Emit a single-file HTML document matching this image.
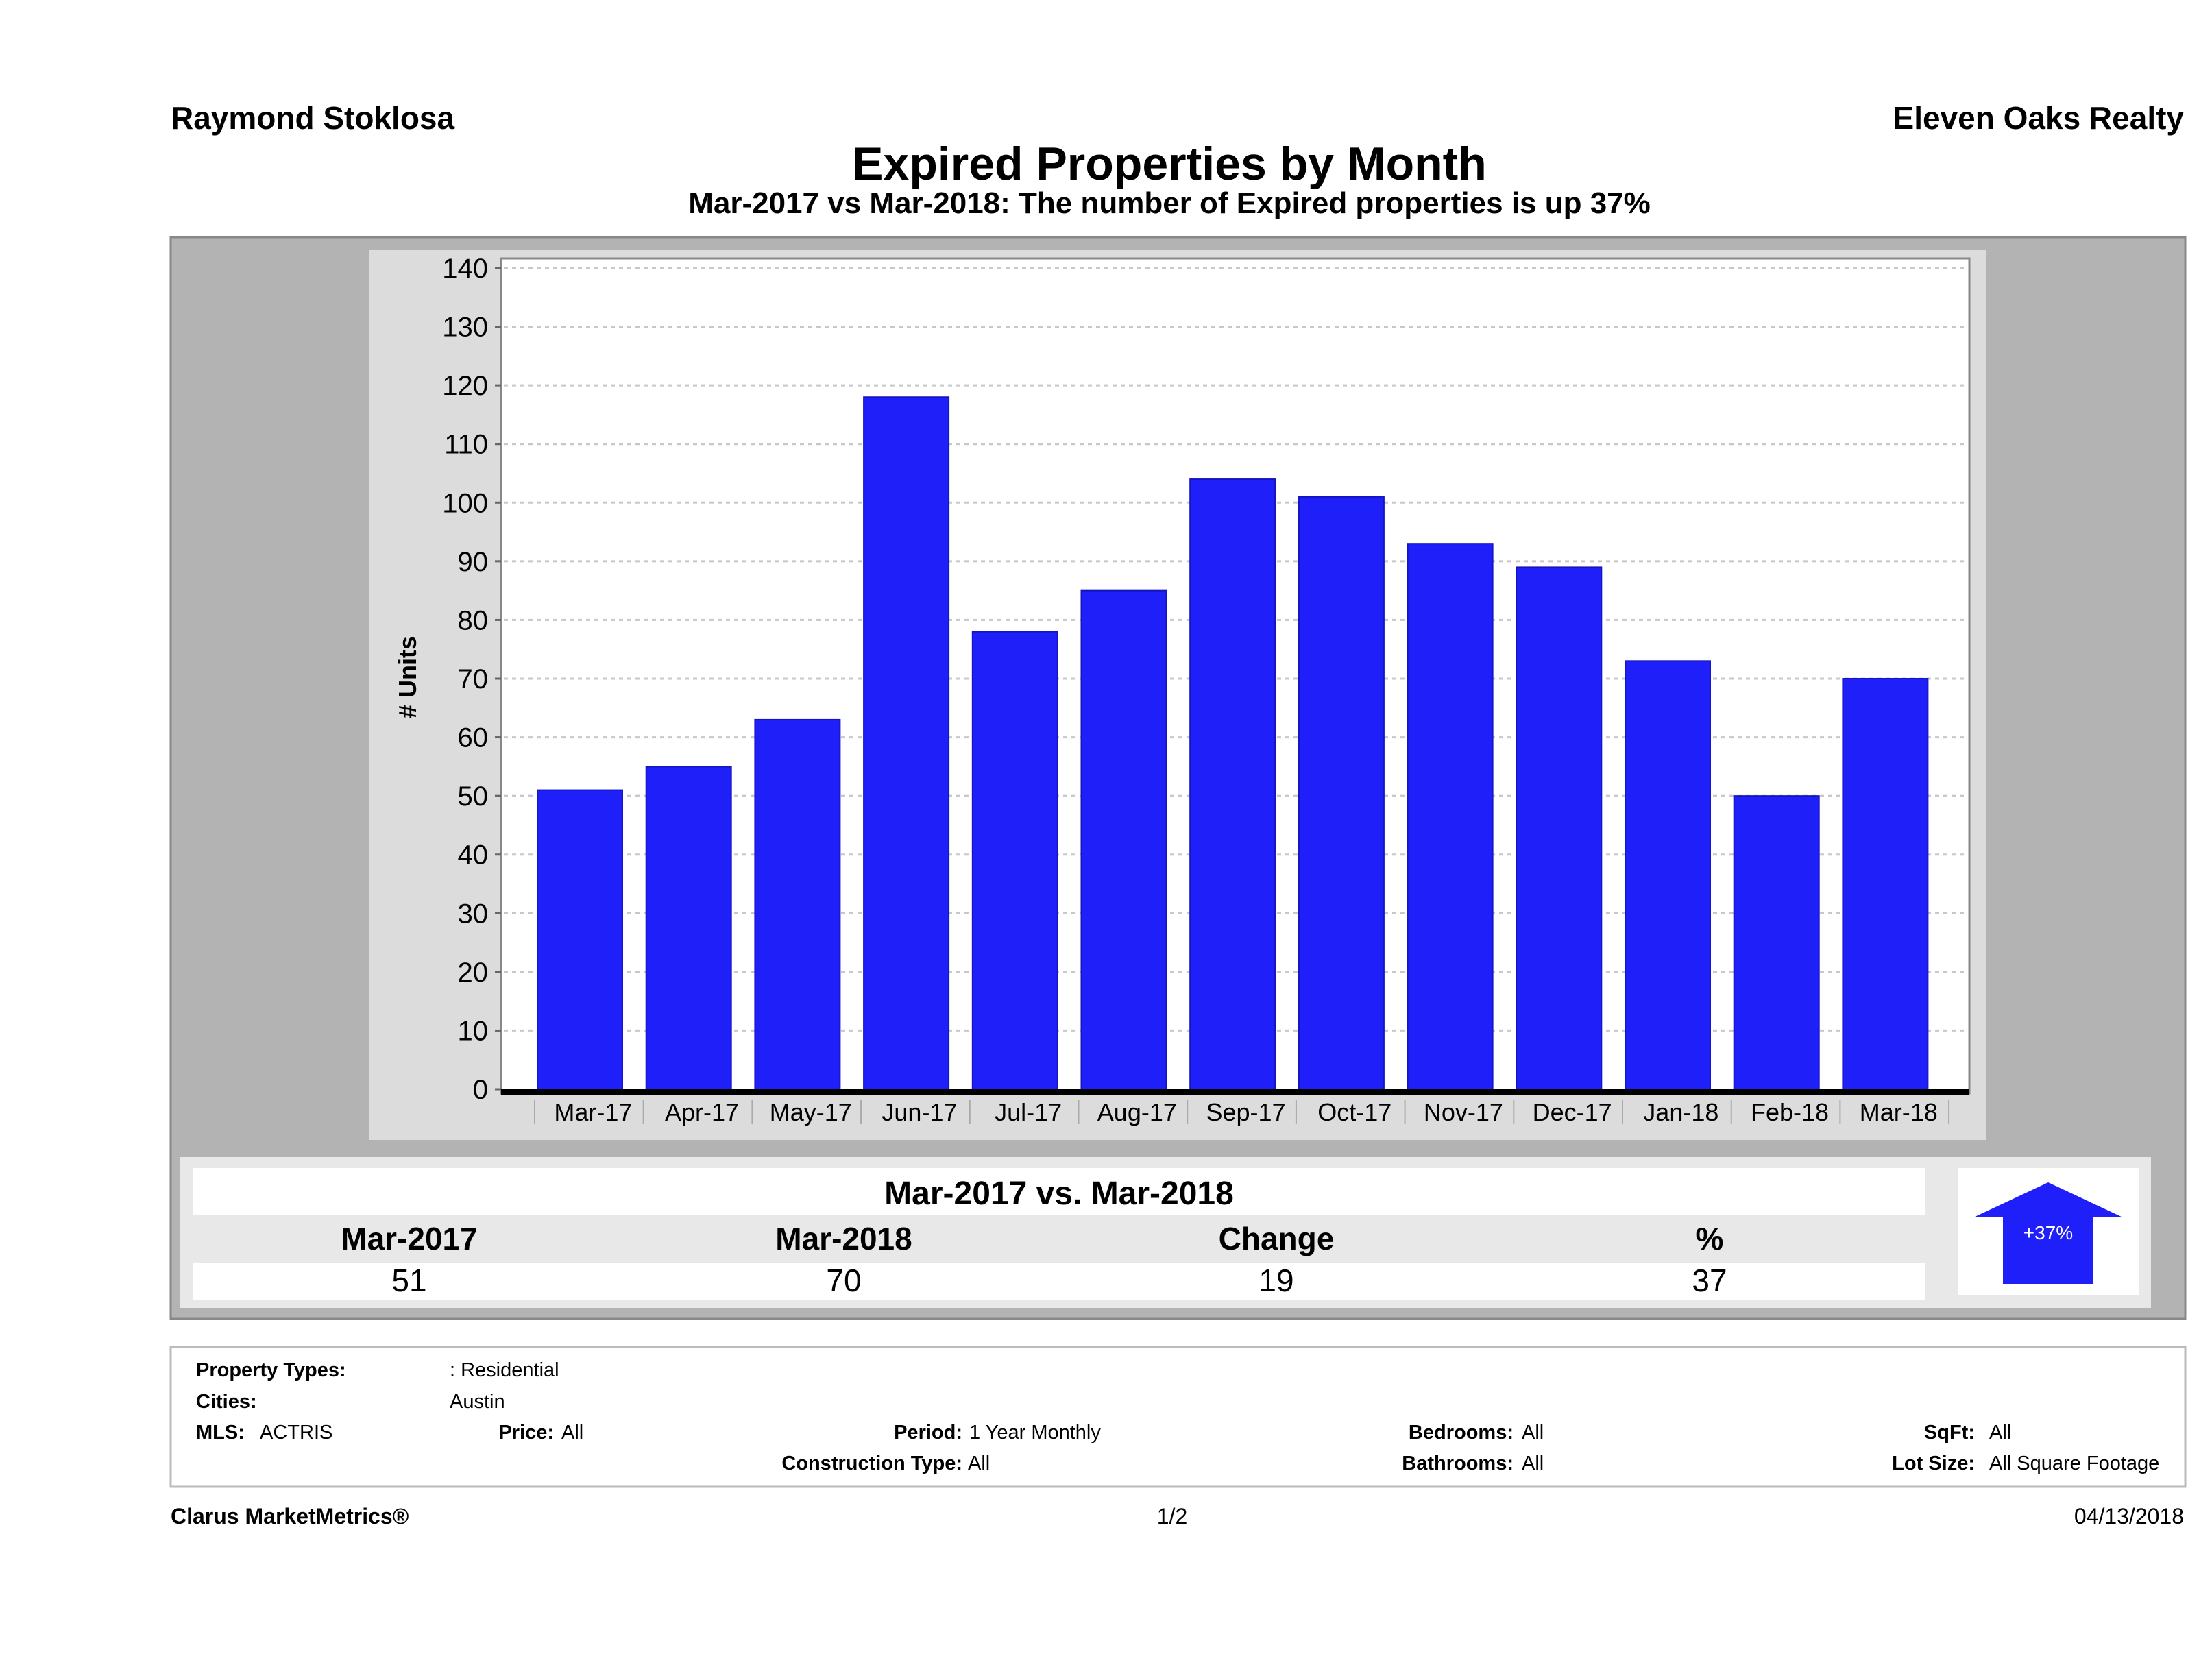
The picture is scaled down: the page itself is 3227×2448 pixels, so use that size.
<!DOCTYPE html>
<html><head><meta charset="utf-8"><style>
html,body{margin:0;padding:0;background:#fff;}
svg{display:block;font-family:"Liberation Sans Narrow","Liberation Sans",sans-serif;}
</style></head><body>
<svg id="c" width="3227" height="2448" viewBox="0 0 3227 2448" xmlns="http://www.w3.org/2000/svg">
<text x="249" y="188" font-size="46" font-weight="bold">Raymond Stoklosa</text>
<text x="3186" y="188" font-size="46" font-weight="bold" text-anchor="end">Eleven Oaks Realty</text>
<text x="1706" y="262" font-size="68" font-weight="bold" text-anchor="middle">Expired Properties by Month</text>
<text x="1706" y="311" font-size="44" font-weight="bold" text-anchor="middle">Mar-2017 vs Mar-2018: The number of Expired  properties is up 37%</text>
<rect x="249" y="346" width="2939" height="1578" fill="#b3b3b3" stroke="#888" stroke-width="3"/>
<rect x="539" y="364" width="2359" height="1299" fill="#dcdcdc"/>
<rect x="731" y="377" width="2142" height="1218" fill="#fff" stroke="#888" stroke-width="3"/>
<g id="grid"></g>
<g id="yticks"></g>
<g id="bars"></g>
<rect x="731" y="1589" width="2142" height="8" fill="#000"/>
<g id="xticks"></g>
<text transform="translate(607,988) rotate(-90)" font-size="36" font-weight="bold" text-anchor="middle"># Units</text>

<rect x="263" y="1688" width="2875" height="220" fill="#e8e8e8"/>
<rect x="282" y="1704" width="2527" height="68" fill="#fff"/>
<rect x="282" y="1842" width="2527" height="54" fill="#fff"/>
<text x="1545" y="1757" font-size="48" font-weight="bold" text-anchor="middle">Mar-2017 vs. Mar-2018</text>
<g font-size="46" text-anchor="middle">
<text x="597" y="1823" font-weight="bold">Mar-2017</text>
<text x="1231" y="1823" font-weight="bold">Mar-2018</text>
<text x="1862" y="1823" font-weight="bold">Change</text>
<text x="2494" y="1823" font-weight="bold">%</text>
<text x="597" y="1884">51</text>
<text x="1231" y="1884">70</text>
<text x="1862" y="1884">19</text>
<text x="2494" y="1884">37</text>
</g>
<rect x="2856" y="1704" width="264" height="185" fill="#fff"/>
<polygon points="2988,1725 3097,1776 3054,1776 3054,1873 2922,1873 2922,1776 2879,1776" fill="#1f1ffa"/>
<text x="2988" y="1808" font-size="28" fill="#fff" text-anchor="middle">+37%</text>

<rect x="249" y="1965" width="2939" height="204" fill="#fff" stroke="#bbb" stroke-width="3"/>
<g font-size="29">
<text x="286" y="2008" font-weight="bold">Property Types:</text>
<text x="656" y="2008">: Residential</text>
<text x="286" y="2054" font-weight="bold">Cities:</text>
<text x="656" y="2054">Austin</text>
<text x="286" y="2099" font-weight="bold">MLS:</text>
<text x="379" y="2099">ACTRIS</text>
<text x="808" y="2099" font-weight="bold" text-anchor="end">Price:</text>
<text x="819" y="2099">All</text>
<text x="1404" y="2099" font-weight="bold" text-anchor="end">Period:</text>
<text x="1414" y="2099">1 Year Monthly</text>
<text x="1404" y="2144" font-weight="bold" text-anchor="end">Construction Type:</text>
<text x="1412" y="2144">All</text>
<text x="2208" y="2099" font-weight="bold" text-anchor="end">Bedrooms:</text>
<text x="2220" y="2099">All</text>
<text x="2208" y="2144" font-weight="bold" text-anchor="end">Bathrooms:</text>
<text x="2220" y="2144">All</text>
<text x="2881" y="2099" font-weight="bold" text-anchor="end">SqFt:</text>
<text x="2902" y="2099">All</text>
<text x="2881" y="2144" font-weight="bold" text-anchor="end">Lot Size:</text>
<text x="2902" y="2144">All Square Footage</text>
</g>
<text x="249" y="2223" font-size="32" font-weight="bold">Clarus MarketMetrics®</text>
<text x="1710" y="2223" font-size="32" text-anchor="middle">1/2</text>
<text x="3186" y="2223" font-size="32" text-anchor="end">04/13/2018</text>
</svg>
<script>
const categories = ["Mar-17","Apr-17","May-17","Jun-17","Jul-17","Aug-17","Sep-17","Oct-17","Nov-17","Dec-17","Jan-18","Feb-18","Mar-18"];
const values = [51,55,63,118,78,85,104,101,93,89,73,50,70];
const yTicks = [0,10,20,30,40,50,60,70,80,90,100,110,120,130,140];

const NS = "http://www.w3.org/2000/svg";
const yMin = 0, yMax = 140, yBottom = 1589, yTop = 391;
const xStart = 780, band = 158.7;
function yScale(v){ return yBottom - (v - yMin) / (yMax - yMin) * (yBottom - yTop); }
function xScale(i){ return xStart + i * band; }
function mk(tag, attrs, parent){ const e = document.createElementNS(NS, tag); for (const k in attrs) e.setAttribute(k, attrs[k]); parent.appendChild(e); return e; }

const grid = document.getElementById('grid'), yt = document.getElementById('yticks');
yTicks.forEach(t => {
  const y = yScale(t);
  if (t > 0) {
    const g = mk('line', {x1:735, x2:2871, y1:y, y2:y, stroke:'#c8c8c8', 'stroke-width':3, 'stroke-dasharray':'6 6'}, grid);
    
    
  }
  const tk = mk('line', {x1:722, x2:731, y1:y, y2:y, stroke:'#666', 'stroke-width':3}, yt);
  
  
  const lb = mk('text', {x:712, y:y+14, 'font-size':40, 'text-anchor':'end'}, yt);
  lb.textContent = t;
  
  
});

const bars = document.getElementById('bars'), xt = document.getElementById('xticks');
values.forEach((v, i) => {
  const x = xScale(i) + 4, y = yScale(v);
  const b = mk('rect', {x:x, y:y, width:124, height:yBottom - y, fill:'#1f1ffa', stroke:'#1515c0', 'stroke-width':2}, bars);
  
  
});
categories.forEach((c, i) => {
  const sep = mk('line', {x1:xScale(i), x2:xScale(i), y1:1605, y2:1640, stroke:'#aaa', 'stroke-width':2}, xt);
  
  
  const t = mk('text', {x:xScale(i) + band/2 + 6, y:1635, 'font-size':36, 'text-anchor':'middle'}, xt);
  t.textContent = c;
  
  
});
const last = mk('line', {x1:xScale(categories.length), x2:xScale(categories.length), y1:1605, y2:1640, stroke:'#aaa', 'stroke-width':2}, xt);


</script>
</body></html>
